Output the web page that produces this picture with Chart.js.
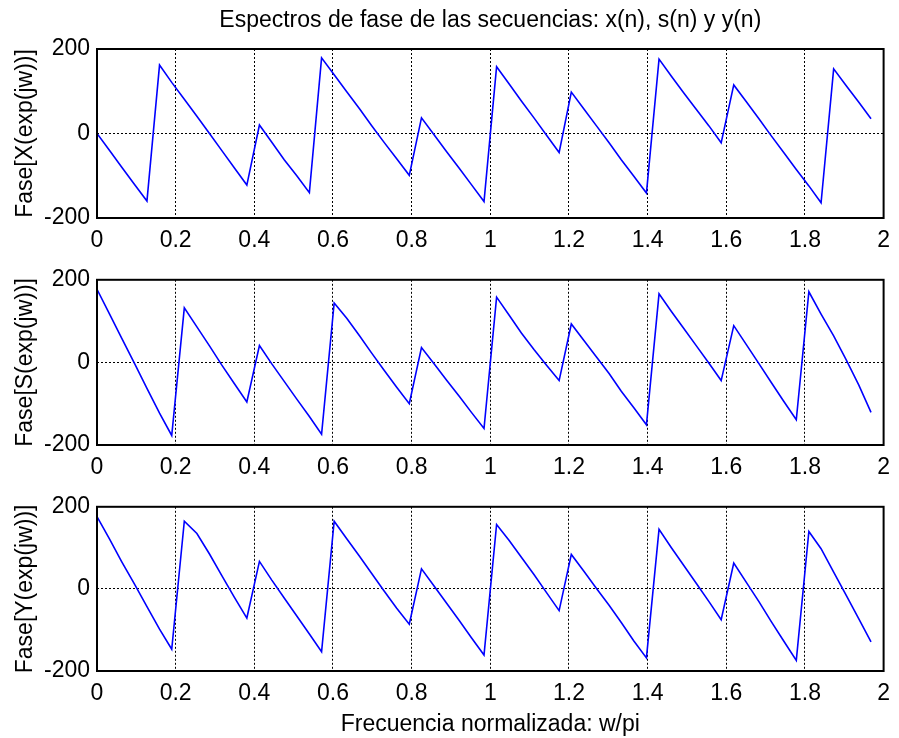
<!DOCTYPE html>
<html>
<head>
<meta charset="utf-8">
<title>Espectros de fase</title>
<script src="https://cdn.jsdelivr.net/npm/chart.js"></script>
<style>
  body { margin: 0; background: #fff; }
  #wrap { position: relative; width: 899px; height: 738px; }
  canvas { position: absolute; left: 0; }
</style>
</head>
<body>
<div id="wrap">
  <canvas id="faseXChart" width="899" height="258" style="top:0px"></canvas>
  <canvas id="faseSChart" width="899" height="224" style="top:259px"></canvas>
  <canvas id="faseYChart" width="899" height="252" style="top:486px"></canvas>
</div>
<script>
// frecuencia normalizada w/pi (63 muestras)
var freq = [0, 0.032, 0.063, 0.095, 0.127, 0.159, 0.190, 0.222, 0.254, 0.286, 0.317, 0.349, 0.381,
  0.413, 0.444, 0.476, 0.508, 0.540, 0.571, 0.603, 0.635, 0.667, 0.698, 0.730, 0.762, 0.794,
  0.825, 0.857, 0.889, 0.921, 0.952, 0.984, 1.016, 1.048, 1.079, 1.111, 1.143, 1.175, 1.206,
  1.238, 1.270, 1.302, 1.333, 1.365, 1.397, 1.429, 1.460, 1.492, 1.524, 1.556, 1.587, 1.619,
  1.651, 1.683, 1.714, 1.746, 1.778, 1.810, 1.841, 1.873, 1.905, 1.937, 1.968];

// fase en grados
var faseX = [0, -40, -80, -120, -160, 162, 121, 81, 41, 0, -40, -81, -122,
  20, -20, -62, -100, -140, 179, 139, 99, 59, 19, -21, -60, -99,
  37, -3, -43, -82, -121, -161, 158, 117, 77, 37, -4, -45,
  98, 58, 18, -22, -62, -101, -141, 176, 136, 96, 57, 18, -22,
  115, 75, 35, -5, -45, -85, -124, -164, 153, 113, 74, 35];

var faseS = [177, 117, 58, -2, -63, -123, -177, 132, 86, 40, -6, -51, -96,
  41, -3, -46, -89, -131, -174, 144, 107, 65, 23, -19, -60, -100,
  36, -3, -43, -82, -121, -160, 158, 114, 71, 31, -7, -44,
  93, 53, 13, -27, -70, -110, -151, 166, 124, 82, 40, -2, -44,
  89, 43, -3, -48, -94, -139, 171, 117, 64, 6, -55, -121];

var faseY = [176, 121, 66, 12, -43, -98, -147, 165, 135, 85, 33, -20, -71,
  67, 22, -22, -66, -110, -153, 165, 122, 80, 38, -5, -47, -86,
  49, 7, -35, -77, -119, -161, 157, 118, 77, 35, -9, -53,
  84, 43, 1, -40, -82, -127, -168, 145, 101, 57, 13, -31, -75,
  63, 16, -31, -79, -127, -174, 140, 98, 41, -16, -73, -129];

var xTicks = [0, 2, 0.2];      // min, max, paso
var yTicks = [-200, 200, 200];

Chart.defaults.font.family = "'Liberation Sans', Arial, sans-serif";
Chart.defaults.font.size = 23;
Chart.defaults.color = '#000';

// marco negro alrededor del area de dibujo (estilo MATLAB)
var framePlugin = {
  id: 'frame',
  afterDraw: function (chart) {
    var ctx = chart.ctx, a = chart.chartArea;
    ctx.save();
    ctx.strokeStyle = '#000';
    ctx.lineWidth = 2;
    ctx.strokeRect(a.left, a.top, a.right - a.left, a.bottom - a.top);
    ctx.restore();
  }
};

function makeChart(id, values, yLabel, opts) {
  var pts = freq.map(function (f, i) { return { x: f, y: values[i] }; });
  var xScale = {
    type: 'linear',
    min: xTicks[0],
    max: xTicks[1],
    border: { display: false, dash: [2, 2] },
    grid: { color: '#000', lineWidth: 1, drawTicks: false },
    ticks: {
      stepSize: xTicks[2],
      padding: 9,
      maxRotation: 0,
      callback: function (v) { return String(Math.round(v * 10) / 10); }
    },
    afterFit: function (s) { s.height = opts.xHeight; }
  };
  if (opts.xTitle) {
    xScale.title = { display: true, text: opts.xTitle, padding: { top: 1, bottom: 0 } };
  }
  return new Chart(document.getElementById(id).getContext('2d'), {
    type: 'line',
    data: {
      datasets: [{
        data: pts,
        borderColor: '#0000ff',
        borderWidth: 1.6,
        pointRadius: 0,
        tension: 0,
        fill: false
      }]
    },
    options: {
      responsive: false,
      animation: false,
      devicePixelRatio: 1,
      layout: { padding: { top: opts.padTop, right: 12, left: 0, bottom: 0 } },
      plugins: {
        legend: { display: false },
        tooltip: { enabled: false },
        title: opts.title ? {
          display: true,
          text: opts.title,
          fullSize: false,
          color: '#000',
          font: { size: 23, weight: 'normal' },
          padding: { top: 7, bottom: 14.4 }
        } : { display: false }
      },
      scales: {
        x: xScale,
        y: {
          min: yTicks[0],
          max: yTicks[1],
          border: { display: false, dash: [2, 2] },
          grid: { color: '#000', lineWidth: 1, drawTicks: false },
          ticks: { stepSize: yTicks[2], padding: 7 },
          title: { display: true, text: yLabel, padding: { top: 12, bottom: 0 } },
          afterFit: function (s) { s.width = 97; }
        }
      }
    },
    plugins: [framePlugin]
  });
}

makeChart('faseXChart', faseX, 'Fase[X(exp(jw))]', {
  padTop: 0, xHeight: 40,
  title: 'Espectros de fase de las secuencias: x(n), s(n) y y(n)'
});
makeChart('faseSChart', faseS, 'Fase[S(exp(jw))]', { padTop: 16, xHeight: 38 });
makeChart('faseYChart', faseY, 'Fase[Y(exp(jw))]', {
  padTop: 16, xHeight: 67,
  xTitle: 'Frecuencia normalizada: w/pi'
});
</script>
</body>
</html>
